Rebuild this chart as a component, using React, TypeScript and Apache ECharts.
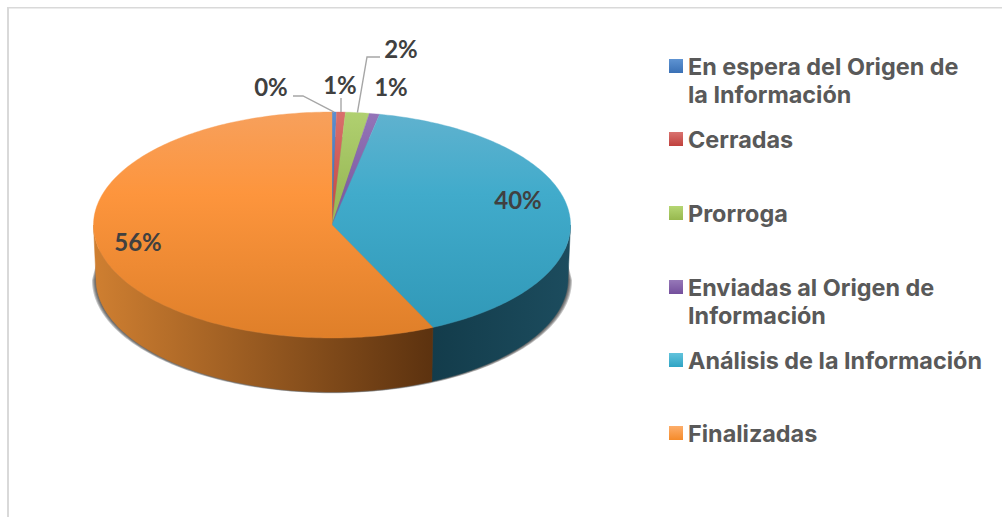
import React, { useEffect, useRef } from "react";
import * as echarts from "echarts";

const categories = [
  "En espera del Origen de la Información",
  "Cerradas",
  "Prorroga",
  "Enviadas al Origen de Información",
  "Análisis de la Información",
  "Finalizadas",
];
const legendLines = [
  ["En espera del Origen de", "la Información"],
  ["Cerradas"],
  ["Prorroga"],
  ["Enviadas al Origen de", "Información"],
  ["Análisis de la Información"],
  ["Finalizadas"],
];
const sliceValues = [0.3, 0.6, 1.6, 0.7, 39.85, 56.95];
const percentLabels = ["0%", "1%", "2%", "1%", "40%", "56%"];

const CX = 332, CY = 225, RX = 238.5, RY = 113, DEPTH = 54, LOW_RX = 236;
const FONT = "Lato, 'Open Sans', sans-serif";
const LEGEND_FONT = "Inter, 'Open Sans', sans-serif";
const LEGEND_Y = [66, 139, 213, 287, 360, 433];
const LEGEND_FS = 23.4;
const LEGEND_LH = 28.5;
const total = sliceValues.reduce((a, b) => a + b, 0);
const cum: number[] = [0];
sliceValues.forEach((v) => cum.push(cum[cum.length - 1] + v / total));

const topColors = [
  ["#5b8fd0", "#3f74b8", "#376aa8"],
  ["#d9706c", "#c9504c", "#b94440"],
  ["#b0d070", "#9bbb59", "#8fad50"],
  ["#9474b8", "#7f5ea3", "#715394"],
  ["#60b2cf", "#41abcb", "#2f97b6"],
  ["#f7a05c", "#fd953d", "#df7f29"],
];
const wallColors = [
  ["#1d3a5c", "#1d3a5c"],
  ["#6a2523", "#6a2523"],
  ["#55662f", "#55662f"],
  ["#44325a", "#44325a"],
  ["#133c4b", "#1c4c5e"],
  ["#cf7f31", "#5c320f"],
];
const legendColors = [
  ["#5e93d2", "#3a70b5"],
  ["#d97370", "#c0413d"],
  ["#b5d673", "#97b84e"],
  ["#9678b8", "#744f9c"],
  ["#62c3dc", "#2fa4c4"],
  ["#fdae6b", "#f58b2a"],
];

function pt(f: number, rx: number, cy: number, ry = RY): number[] {
  const a = f * Math.PI * 2;
  return [CX + rx * Math.sin(a), cy - ry * Math.cos(a)];
}
function arc(f0: number, f1: number, rx: number, cy: number): number[][] {
  const n = Math.max(2, Math.ceil((f1 - f0) * 360));
  const out: number[][] = [];
  for (let i = 0; i <= n; i++) out.push(pt(f0 + ((f1 - f0) * i) / n, rx, cy));
  return out;
}

const globalV = (c: string[]) =>
  new echarts.graphic.LinearGradient(0, CY - RY, 0, CY + RY, [
    { offset: 0, color: c[0] },
    { offset: 0.36, color: c[1] },
    { offset: 1, color: c[2] },
  ], true);

function renderSlice(params: any) {
  const i = params.dataIndex;
  const f0 = cum[i], f1 = cum[i + 1];
  const children: any[] = [];
  if (i === 0) {
    [4, 3, 2, 1].forEach((d) => {
      const sil = [...arc(0.25, 0.75, LOW_RX + d, CY + DEPTH + d * 0.3), ...arc(0.75, 1.25, RX - 6, CY + 25)];
      children.push({
        type: "polygon",
        shape: { points: sil },
        style: { fill: "rgba(50,50,50,0.28)" },
      });
    });
  }
  const w0 = Math.max(f0, 0.25), w1 = Math.min(f1, 0.75);
  if (w1 > w0) {
    const grad = new echarts.graphic.LinearGradient(
      pt(w1, RX, CY)[0], 0, pt(w0, RX, CY)[0], 0,
      [
        { offset: 0, color: wallColors[i][0] },
        { offset: 1, color: wallColors[i][1] },
      ], true);
    const poly = [...arc(w0, w1, RX, CY), ...arc(w0, w1, LOW_RX, CY + DEPTH).reverse()];
    children.push({ type: "polygon", shape: { points: poly }, style: { fill: grad, stroke: grad, lineWidth: 0.5 } });
  }
  const top = [[CX, CY], ...arc(f0, f1, RX, CY)];
  const g = globalV(topColors[i]);
  children.push({ type: "polygon", shape: { points: top }, style: { fill: g, stroke: g, lineWidth: 0.4 } });
  return { type: "group", children };
}

function mid(i: number) {
  return (cum[i] + cum[i + 1]) / 2;
}

function buildGraphics() {
  const els: any[] = [
    { type: "rect", shape: { x: 7, y: 7, width: 995, height: 1.5 }, style: { fill: "#d9d9d9" } },
    { type: "rect", shape: { x: 7, y: 7, width: 2, height: 510 }, style: { fill: "#d9d9d9" } },
  ];
  const labelPos = [[271, 86], [340, 84], [401, 48], [391, 86], [518, 199], [138, 241]];
  percentLabels.forEach((t, i) => {
    els.push({
      type: "text", z: 10, x: labelPos[i][0], y: labelPos[i][1],
      style: { text: t, font: `bold 24px ${FONT}`, fill: "#404040", align: "center", verticalAlign: "middle" },
    });
  });
  const leaders: number[][][] = [
    [[293, 96], [303, 96], pt(mid(0), RX, CY)],
    [[341, 98], pt(mid(1), RX, CY)],
    [[380, 57], [367, 57], pt(mid(2), RX, CY)],
  ];
  leaders.forEach((p) =>
    els.push({ type: "polyline", z: 9, shape: { points: p }, style: { stroke: "#a6a6a6", lineWidth: 1.4, fill: "none" } })
  );
  legendLines.forEach((lines, i) => {
    const y = LEGEND_Y[i];
    els.push({
      type: "rect", shape: { x: 669, y: y - 7, width: 14, height: 14 },
      style: { fill: new echarts.graphic.LinearGradient(0, 0, 0, 1, [
        { offset: 0, color: legendColors[i][0] }, { offset: 1, color: legendColors[i][1] },
      ]) },
    });
    els.push({
      type: "text", x: 688, y: y + ((lines.length - 1) * LEGEND_LH) / 2,
      style: {
        text: lines.join("\n"),
        font: `bold ${LEGEND_FS}px ${LEGEND_FONT}`,
        lineHeight: LEGEND_LH,
        fill: "#595959", align: "left", verticalAlign: "middle",
      },
    });
  });
  return els;
}

export default function App() {
  const ref = useRef<HTMLDivElement>(null);
  useEffect(() => {
    document.body.style.margin = "0";
    const chart = echarts.init(ref.current!, undefined, { renderer: "svg" });
    chart.setOption({
      animation: false,
      backgroundColor: "#ffffff",
      series: [{
        type: "custom",
        coordinateSystem: "none",
        renderItem: renderSlice,
        silent: true,
        data: categories.map((name, i) => ({ name, value: sliceValues[i] })),
      }],
      graphic: { elements: buildGraphics() },
    });
    return () => chart.dispose();
  }, []);
  return <div ref={ref} style={{ width: 1002, height: 517 }} />;
}
